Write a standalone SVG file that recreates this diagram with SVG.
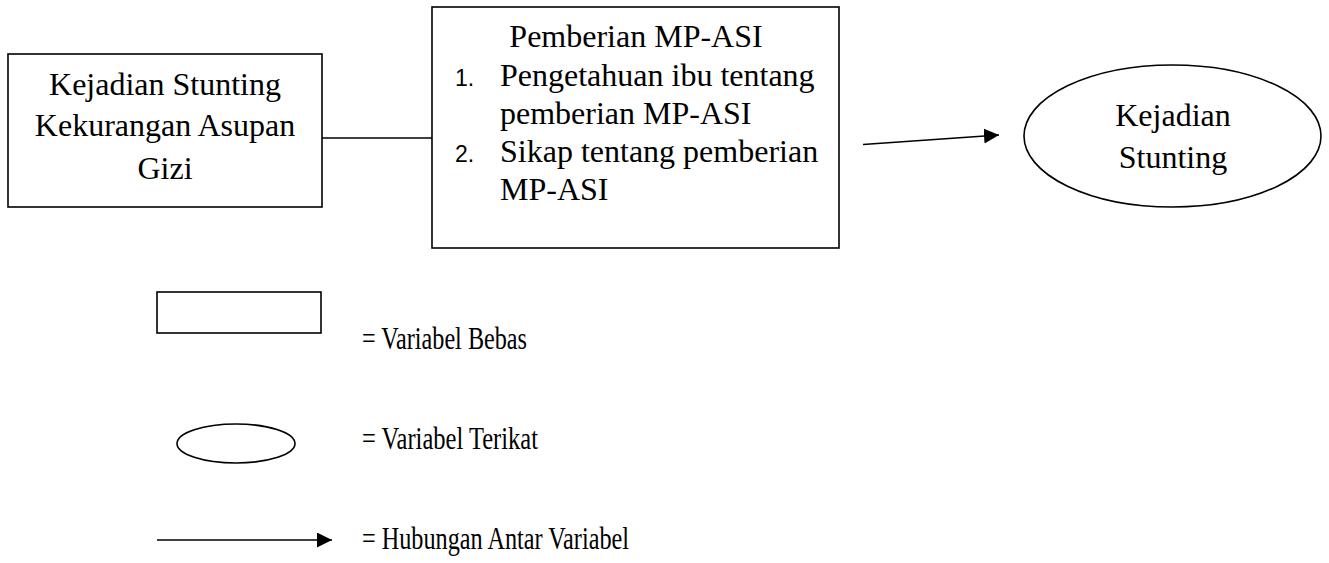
<svg xmlns="http://www.w3.org/2000/svg" width="1329" height="563" viewBox="0 0 1329 563">
<style>
.box{fill:#fff;stroke:#000;stroke-width:1.6}
.ln{fill:none;stroke:#000;stroke-width:1.6}
.t{font-family:"Liberation Serif","Times New Roman",serif;font-size:32px;fill:#000}
.c{text-anchor:middle}
.n{font-family:"Liberation Sans",Arial,sans-serif;font-size:23px;fill:#000}
.lg{font-family:"Liberation Serif","Times New Roman",serif;font-size:32px;fill:#000}
</style>
<defs>
<marker id="ah" viewBox="0 0 10 10" refX="10" refY="5" markerWidth="15" markerHeight="15" markerUnits="userSpaceOnUse" orient="auto">
<path d="M0,0 L10,5 L0,10 Z" fill="#000"/>
</marker>
</defs>
<g id="connectors">
<line class="ln" x1="322" y1="138" x2="432" y2="138"/>
<line class="ln" x1="863" y1="144.5" x2="999" y2="135" marker-end="url(#ah)"/>
</g>
<g id="node-stunting-gizi">
<rect class="box" x="8" y="54" width="314" height="153"/>
<text class="t c" x="165" y="95">Kejadian Stunting</text>
<text class="t c" x="165" y="136">Kekurangan Asupan</text>
<text class="t c" x="165" y="179">Gizi</text>
</g>
<g id="node-mpasi">
<rect class="box" x="432" y="7" width="407" height="241"/>
<text class="t c" x="636" y="47">Pemberian MP-ASI</text>
<text class="n" x="455" y="86">1.</text>
<text class="t" x="500" y="86">Pengetahuan ibu tentang</text>
<text class="t" x="500" y="124">pemberian MP-ASI</text>
<text class="n" x="455" y="162">2.</text>
<text class="t" x="500" y="162">Sikap tentang pemberian</text>
<text class="t" x="500" y="200">MP-ASI</text>
</g>
<g id="node-kejadian">
<ellipse class="box" cx="1172.5" cy="136" rx="148.5" ry="71"/>
<text class="t c" x="1173" y="126">Kejadian</text>
<text class="t c" x="1173" y="168">Stunting</text>
</g>
<g id="legend">
<rect class="box" x="157" y="292" width="164" height="41"/>
<text class="lg" x="362" y="349" textLength="165" lengthAdjust="spacingAndGlyphs">= Variabel Bebas</text>
<ellipse class="box" cx="236" cy="443.5" rx="59" ry="19.5"/>
<text class="lg" x="362" y="449" textLength="176" lengthAdjust="spacingAndGlyphs">= Variabel Terikat</text>
<line class="ln" x1="157" y1="540" x2="332" y2="540" marker-end="url(#ah)"/>
<text class="lg" x="362" y="549" textLength="267" lengthAdjust="spacingAndGlyphs">= Hubungan Antar Variabel</text>
</g>
</svg>
